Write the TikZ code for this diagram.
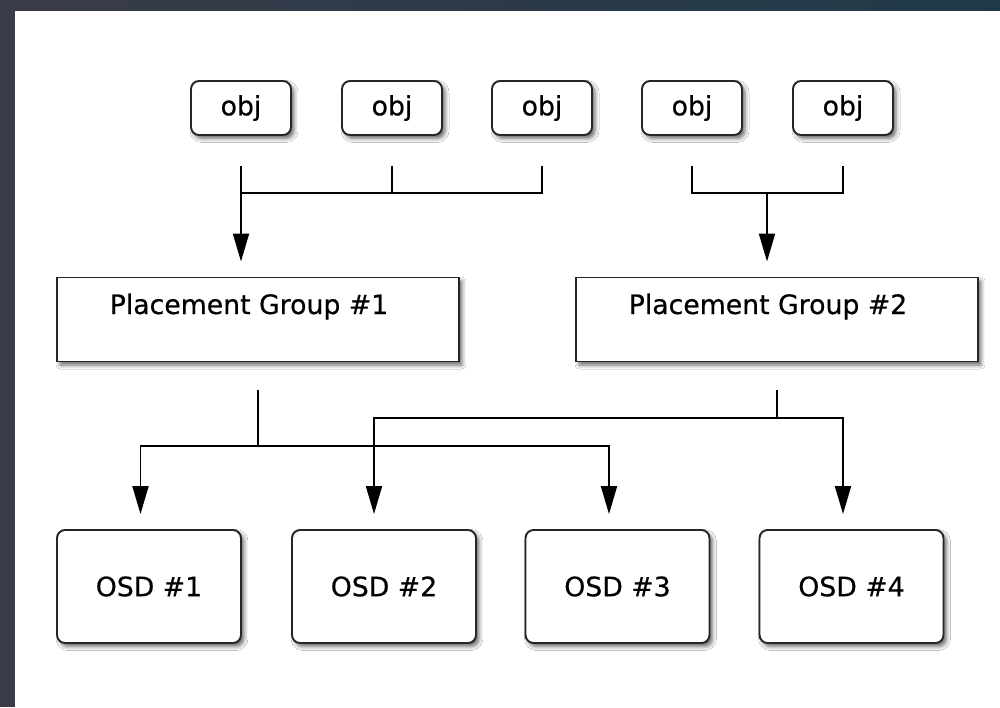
\documentclass[tikz,border=0pt]{standalone}
\usepackage{fontspec}
\setmainfont{DejaVu Sans}[FakeBold=0.5]
\usetikzlibrary{arrows.meta,shadows.blur}

\definecolor{frameLeft}{HTML}{3A3B4A}
\definecolor{frameRight}{HTML}{1F3A47}

\begin{document}
\begin{tikzpicture}[x=0.02cm, y=-0.02cm,
	every node/.style={font=\fontsize{15.2}{18}\selectfont},
	box/.style={draw=black!85, line width=1.1pt, fill=white,
		blur shadow={shadow xshift=0.06cm, shadow yshift=-0.07cm, shadow blur radius=0.08cm, shadow opacity=60}},
	objbox/.style={box, rounded corners=0.16cm, minimum width=2cm, minimum height=1.08cm, inner sep=0pt},
	pgbox/.style={box, minimum width=8.04cm, inner xsep=0pt, inner ysep=0pt, text height=0.73cm, text depth=0.95cm},
	osdbox/.style={box, rounded corners=0.16cm, minimum width=3.68cm, minimum height=2.26cm, inner sep=0pt},
	link/.style={line width=1.1pt, black},
	arrowline/.style={link, -{Triangle[length=0.56cm, width=0.32cm]}}]
	
	% frame round the page
	\useasboundingbox (0,0) rectangle (1000,707);
	\fill[white] (0,0) rectangle (1000,707);
	\shade[left color=frameLeft, right color=frameRight] (0,0) rectangle (1000,10);
	\fill[frameLeft] (0,0) rectangle (15,707);
	
	% objects
	\node[objbox] (o1) at (241,108) {obj};
	\node[objbox] (o2) at (392,108) {obj};
	\node[objbox] (o3) at (542,108) {obj};
	\node[objbox] (o4) at (692,108) {obj};
	\node[objbox] (o5) at (843,108) {obj};
	
	% placement groups
	\node[pgbox] (pg1) at (258,319.5) {Placement Group \#1\hspace*{0.36cm}};
	\node[pgbox] (pg2) at (777,319.5) {Placement Group \#2\hspace*{0.36cm}};
	
	% OSDs
	\node[osdbox] (osd1) at (149,586.5) {OSD \#1};
	\node[osdbox] (osd2) at (384,586.5) {OSD \#2};
	\node[osdbox] (osd3) at (617.5,586.5) {OSD \#3};
	\node[osdbox] (osd4) at (851.5,586.5) {OSD \#4};
	
	% junctions
	\coordinate (j1) at (241,193);
	\coordinate (j2) at (767,193);
	\coordinate (j3) at (258,446);
	\coordinate (j4) at (777,418);
	
	% objects -> placement group 1
	\draw[arrowline] ([yshift=-0.6cm]o1.south) -- ([yshift=0.3cm]o1 |- pg1.north);
	\draw[link] ([yshift=-0.6cm]o2.south) -- (o2 |- j1);
	\draw[link] ([yshift=-0.6cm]o3.south) -- (o3 |- j1) -- (j1);
	
	% objects -> placement group 2
	\draw[link] ([yshift=-0.6cm]o4.south) -- (o4 |- j2) -- (o5 |- j2) -- ([yshift=-0.6cm]o5.south);
	\draw[arrowline] (j2) -- ([yshift=0.3cm]j2 |- pg2.north);
	
	% placement group 1 -> OSD 1 and 3
	\draw[link] ([yshift=-0.55cm]pg1.south) -- (j3);
	\draw[arrowline] (j3) -| ([xshift=-0.17cm, yshift=0.3cm]osd1.north);
	\draw[arrowline] (j3) -| ([xshift=-0.17cm, yshift=0.3cm]osd3.north);
	
	% placement group 2 -> OSD 2 and 4
	\draw[link] ([yshift=-0.55cm]pg2.south) -- (j4);
	\draw[arrowline] (j4) -| ([xshift=-0.2cm, yshift=0.3cm]osd2.north);
	\draw[arrowline] (j4) -| ([xshift=-0.17cm, yshift=0.3cm]osd4.north);
	
\end{tikzpicture}
\end{document}
